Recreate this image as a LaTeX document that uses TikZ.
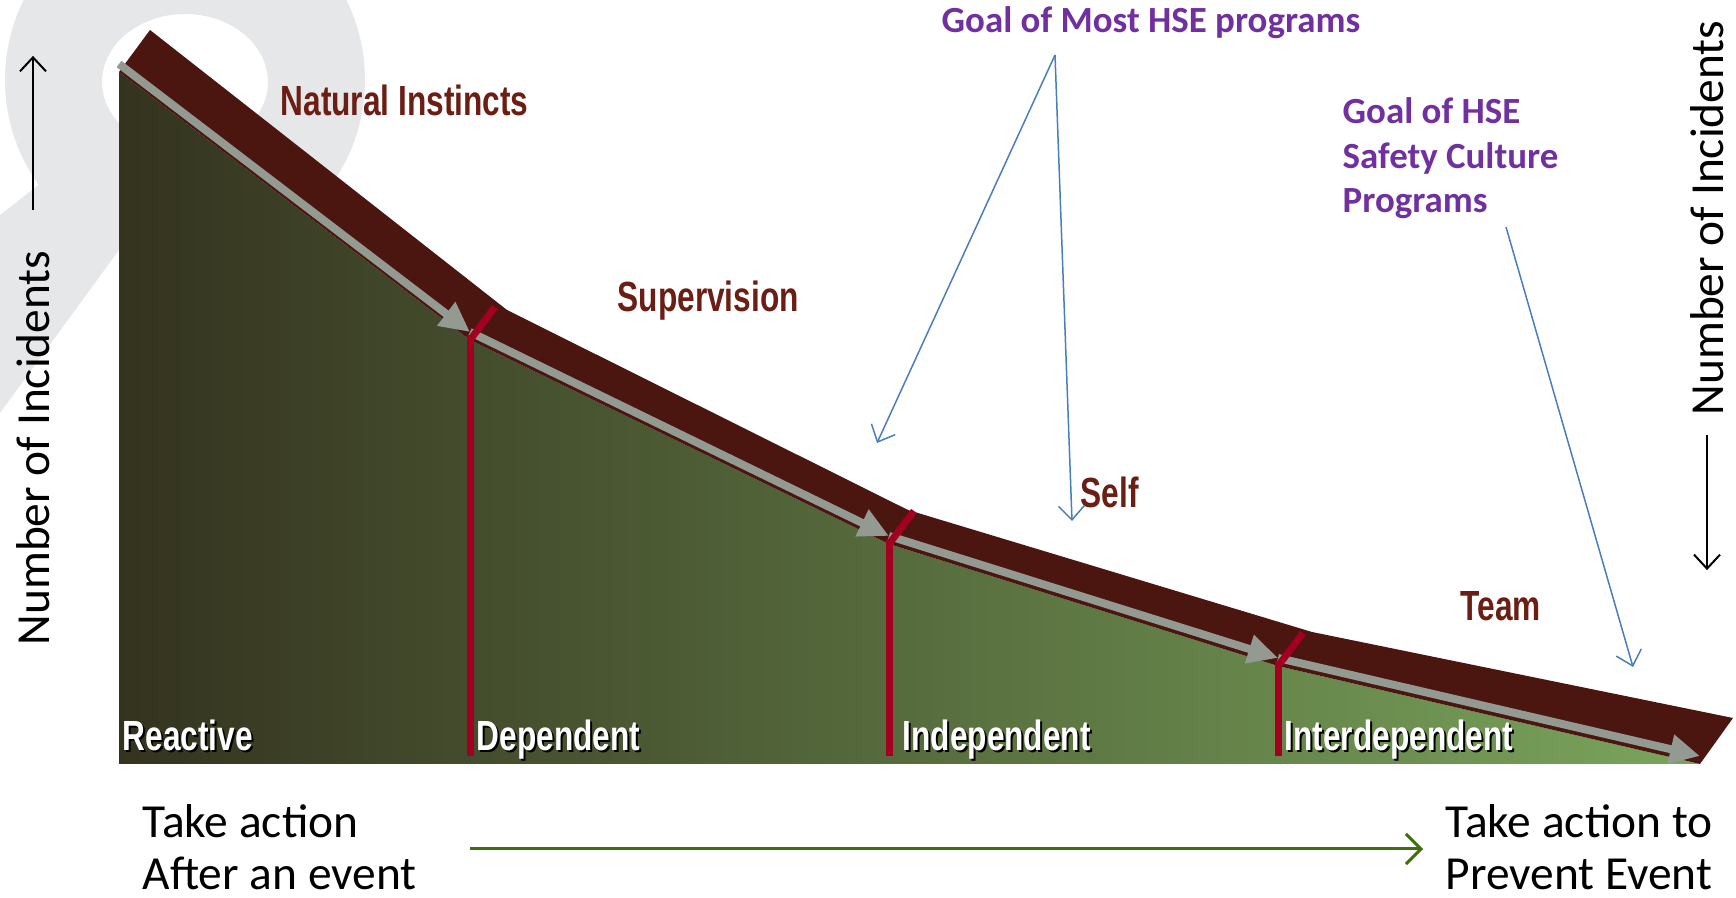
\documentclass[tikz,border=0pt]{standalone}
\usepackage{fontspec}
\setmainfont{Carlito}
\newfontfamily\narrowfont[FakeStretch=0.75]{Liberation Sans}
\usetikzlibrary{arrows.meta}

\definecolor{wmgray}{RGB}{230,231,233}
\definecolor{bandbrown}{RGB}{76,22,16}
\definecolor{lblbrown}{RGB}{107,30,20}
\definecolor{markred}{RGB}{163,0,33}
\definecolor{trailgray}{RGB}{147,154,145}
\definecolor{goalpurple}{RGB}{112,48,160}
\definecolor{pointerblue}{RGB}{74,126,187}
\definecolor{timegreen}{RGB}{62,110,16}
\definecolor{shadeleft}{RGB}{52,51,31}
\definecolor{shademid}{RGB}{86,114,62}
\definecolor{shaderight}{RGB}{122,165,92}

\begin{document}
\begin{tikzpicture}[x=0.1mm,y=-0.1mm,>={Straight Barb[length=1.4mm,width=2.6mm]},
  stage/.style={font=\narrowfont\bfseries\fontsize{12}{14}\selectfont,anchor=base west,inner sep=0},
  phase/.style={stage,text=lblbrown},
  goal/.style={font=\bfseries\fontsize{10.5}{12.7}\selectfont,text=goalpurple,anchor=base west,inner sep=0,align=left},
  note/.style={font=\fontsize{13.5}{14.8}\selectfont,anchor=base west,inner sep=0,align=left},
  axis/.style={font=\fontsize{13.5}{16}\selectfont,rotate=90,inner sep=0},
  pointer/.style={pointerblue,line width=0.15mm,->},
  marker/.style={markred,line width=0.7mm},
  trail/.style={trailgray,line width=0.8mm,-{Triangle[length=3mm,width=2.8mm]}}]
  \useasboundingbox (0,0) rectangle (1736,898);

  % wrench in the background
  \begin{scope}
    \clip (0,0) rectangle (1736,898);
    \fill[wmgray,even odd rule] (185,80) circle[radius=18mm] (185,82) ellipse[x radius=8.3mm,y radius=6.8mm];
    \fill[wmgray] (0,215) -- (50,176) -- (119,215) -- (119,250) -- (0,413) -- cycle;
  \end{scope}

  % corners of the curve, bottom (g) and top of the band (t)
  \coordinate (g0) at (119,72);   \coordinate (t0) at (150,30);
  \coordinate (g1) at (470,340);  \coordinate (t1) at (507,310);
  \coordinate (g2) at (889,544);  \coordinate (t2) at (908,510);
  \coordinate (g3) at (1278,666); \coordinate (t3) at (1312,632);
  \coordinate (g4) at (1700,764); \coordinate (t4) at (1733,718);
  \coordinate (floor) at (0,756);

  \shade[left color=shadeleft,middle color=shademid,right color=shaderight]
    (119,764) -- (g0) -- (g1) -- (g2) -- (g3) -- (g4) -- cycle;
  \fill[bandbrown] (t0) -- (t1) -- (t2) -- (t3) -- (t4) -- (g4) -- (g3) -- (g2) -- (g1) -- (g0) -- cycle;

  \foreach \a/\b in {g0/g1,g1/g2,g2/g3,g3/g4}
    \draw[trail] ([yshift=0.8mm]\a) -- ([yshift=0.8mm]\b);
  \foreach \c in {g1,g2,g3} {
    \draw[marker] (\c |- floor) -- ([yshift=0.5mm]\c);
    \draw[marker] (\c) -- ++(25,-33);
  }

  % stage names, white with a black shadow
  \foreach \name/\xx/\txt in {reac/122/Reactive,dep/476/Dependent,indep/902/Independent,inter/1284/Interdependent} {
    \node[stage,text=black] at (\xx+2,753) {\txt};
    \node[stage,text=white] (\name) at (\xx,751) {\txt};
  }

  \node[phase] (nat) at (280,116) {Natural Instincts};
  \node[phase] (sup) at (617,312) {Supervision};
  \node[phase] (self) at (1080,508) {Self};
  \node[phase] (team) at (1460,621) {Team};

  \node[goal] (goalmost) at (941,33) {Goal of Most HSE programs};
  \node[goal] (goalhse) at (1342,213) {Goal of HSE\\Safety Culture\\Programs};

  \coordinate (apex) at (1055,55);
  \coordinate (mosttip) at (877,443);
  \coordinate (selftip) at (1072,521);
  \coordinate (hsefoot) at (1506,227);
  \coordinate (hsetip) at (1633,667);
  \draw[pointer] (apex) -- (mosttip);
  \draw[pointer] (apex) -- (selftip);
  \draw[pointer] (hsefoot) -- (hsetip);

  \node[axis] (incleft) at (33,448) {Number of Incidents};
  \node[axis] (incright) at (1707,218) {Number of Incidents};
  \draw[->,line width=0.2mm] (incleft.east) ++(0,-40) -- ++(0,-154);
  \draw[->,line width=0.2mm] (incright.west) ++(0,19) -- ++(0,135);

  \node[note] (after) at (142,890) {Take action\\After an event};
  \node[note] (prevent) at (1445,890) {Take action to\\Prevent Event};
  \coordinate (tstart) at (470,849);
  \coordinate (tend) at (1423,849);
  \draw[timegreen,line width=0.3mm,-{Straight Barb[length=1.5mm,width=3mm]}] (tstart) -- (tend);
\end{tikzpicture}
\end{document}
